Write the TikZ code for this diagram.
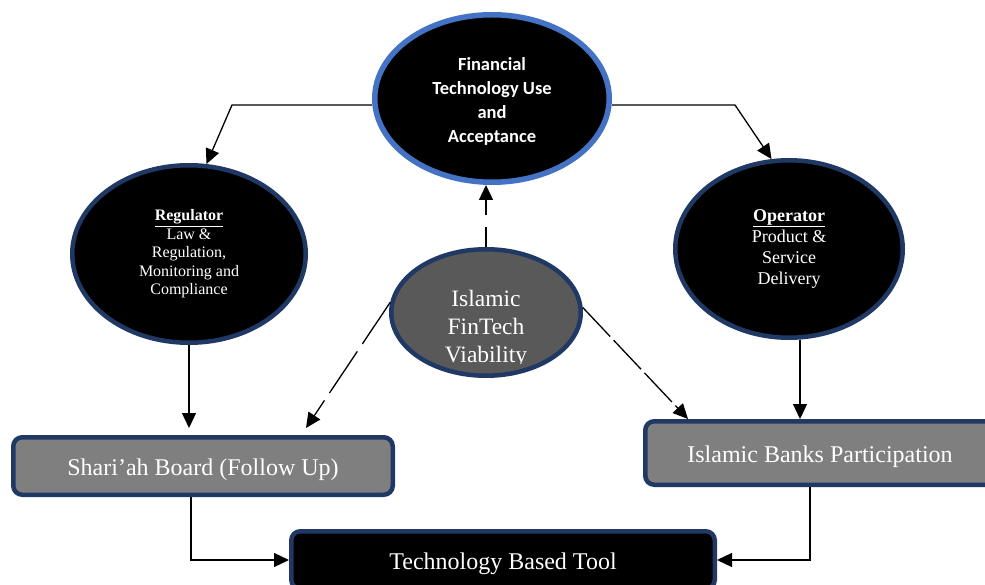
\documentclass[tikz,border=0pt]{standalone}
\usepackage{fontspec}
\setmainfont{Liberation Serif}
\newfontfamily\calibri{Carlito}
\usetikzlibrary{shapes.geometric,arrows.meta,calc}
\definecolor{navy}{HTML}{203864}
\definecolor{accentblue}{HTML}{4472C4}
\definecolor{darkgrey}{HTML}{595959}
\definecolor{midgrey}{HTML}{7F7F7F}

\begin{document}
\begin{tikzpicture}[x=1pt,y=-1pt,
  oval/.style={ellipse, draw=navy, line width=4.5pt, fill=black, text=white,
    inner sep=0pt, align=center},
  panel/.style={rectangle, rounded corners=9pt, draw=navy, line width=4.5pt,
    text=white, inner sep=0pt, text height=19pt, text depth=1pt,
    font=\fontsize{24}{28}\selectfont},
  link/.style={line width=1.3pt, -{Triangle[length=15pt,width=14pt]}},
  dlink/.style={link, dash pattern=on 45pt off 8pt},
]
\clip (0,0) rectangle (985,585);
\fill[white] (0,0) rectangle (985,585);

% ellipses
\node[oval, draw=accentblue, line width=5.5pt, minimum width=234.5pt,
  minimum height=167.5pt] (fin) at (492,98.5) {};
\node[text=white, align=center, inner sep=0pt,
  font=\calibri\bfseries\fontsize{18.5}{24.3}\selectfont]
  (fintext) at (492,101.5) {Financial\\Technology Use\\and\\Acceptance};
\node[oval, minimum width=233.5pt, minimum height=177.5pt,
  font=\fontsize{16}{18.5}\selectfont]
  (reg) at (189,254) {\underline{\textbf{Regulator}}\\Law \&\\Regulation,\\Monitoring and\\Compliance};
\node[oval, minimum width=227.5pt, minimum height=177.5pt,
  font=\fontsize{18}{21.3}\selectfont]
  (op) at (789,249) {\underline{\textbf{Operator}}\\Product \&\\Service\\Delivery};
\node[oval, fill=darkgrey, minimum width=189.5pt, minimum height=126.5pt]
  (via) at (486,312.5) {};
\begin{scope}
  \clip (380,240) rectangle (590,363);
  \node[text=white, align=center, inner sep=0pt, font=\fontsize{23.5}{28}\selectfont]
    (viatext) at (486,329) {Islamic\\FinTech\\Viability};
\end{scope}

% boxes
\node[panel, fill=midgrey, minimum width=379.5pt, minimum height=57.5pt]
  (sh) at (203,466) {Shari’ah Board (Follow Up)};
\node[panel, fill=midgrey, minimum width=349.5pt, minimum height=63.5pt]
  (bk) at (820,453) {Islamic Banks Participation};
\node[panel, fill=black, minimum width=423.5pt, minimum height=57.5pt]
  (tt) at (503,560) {Technology Based Tool};

% connectors
\coordinate (kl) at (232,105);
\coordinate (kr) at (735,105);
\draw[link] (fin.west |- kl) -- (kl) -- (reg.79);
\draw[link] (fin.east |- kr) -- (kr) -- (op.101);
\draw[link] (reg.south) -- ([yshift=7pt]reg.south |- sh.north);
\draw[link] ([xshift=11pt]op.south) -- ([xshift=11pt]op.south |- bk.north);
\draw[dlink, dash pattern=on 20pt off 12pt] (via.north) -- (via.north |- fin.south);
\draw[dlink, dash pattern=on 50pt off 9pt] (via.174) -- ($(sh.north)+(103,-7)$);
\draw[dlink, dash pattern=on 40pt off 5pt] (via.3) -- ($(bk.north west)+(45,0)$);
\draw[link] ([xshift=-12pt]sh.south) |- (tt.west);
\draw[link] ([xshift=-10pt]bk.south) |- (tt.east);
\end{tikzpicture}
\end{document}
